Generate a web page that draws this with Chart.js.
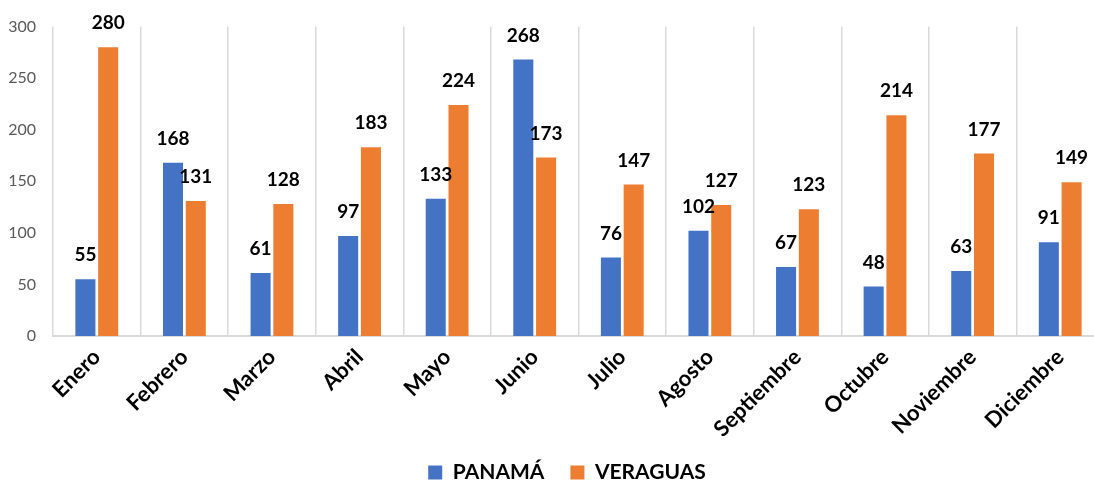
<!DOCTYPE html>
<html lang="es">
<head>
<meta charset="utf-8">
<title>Casos por mes</title>
<script src="https://cdn.jsdelivr.net/npm/chart.js@4.4.0/dist/chart.umd.min.js"></script>
<style>
    html, body {
        margin: 0;
        padding: 0;
        background: #ffffff;
        overflow: hidden;
    }
    #wrap {
        width: 1110px;
        height: 495px;
    }
</style>
</head>
<body>
<div id="wrap">
    <canvas id="barChart" width="1110" height="495"></canvas>
</div>
<script>
// Monthly values per province
const months = ['Enero', 'Febrero', 'Marzo', 'Abril', 'Mayo', 'Junio', 'Julio', 'Agosto', 'Septiembre', 'Octubre', 'Noviembre', 'Diciembre'];
const panama = [55, 168, 61, 97, 133, 268, 76, 102, 67, 48, 63, 91];
const veraguas = [280, 131, 128, 183, 224, 173, 147, 127, 123, 214, 177, 149];
const yTicks = [0, 50, 100, 150, 200, 250, 300];

const FONT = 'Lato, "Open Sans", sans-serif';

// Draws the value above each bar
const valueLabels = {
    id: 'valueLabels',
    afterDatasetsDraw(chart) {
        const ctx = chart.ctx;
        ctx.save();
        ctx.font = 'bold 19px ' + FONT;
        ctx.fillStyle = '#000000';
        ctx.textAlign = 'center';
        ctx.textBaseline = 'middle';
        chart.data.datasets.forEach((ds, i) => {
            chart.getDatasetMeta(i).data.forEach((bar, j) => {
                ctx.fillText(String(ds.data[j]), bar.x, bar.y - 24);
            });
        });
        ctx.restore();
    }
};

// Nudge the legend to the right, under the plot centre
const legendShift = {
    id: 'legendShift',
    afterLayout(chart) {
        if (chart.legend) {
            chart.legend.left += 15;
            chart.legend.right += 15;
        }
    }
};

const ctx = document.getElementById('barChart').getContext('2d');

new Chart(ctx, {
    type: 'bar',
    data: {
        labels: months,
        datasets: [{
            label: 'PANAMÁ',
            data: panama,
            backgroundColor: '#4472C4',
            categoryPercentage: 0.52,
            barPercentage: 0.88
        }, {
            label: 'VERAGUAS',
            data: veraguas,
            backgroundColor: '#ED7D31',
            categoryPercentage: 0.52,
            barPercentage: 0.88
        }]
    },
    options: {
        responsive: false,
        animation: false,
        layout: {
            padding: { top: 23, right: 6, left: 0, bottom: 2 }
        },
        plugins: {
            legend: {
                position: 'bottom',
                labels: {
                    color: '#000000',
                    font: { family: FONT, size: 21, weight: 'bold' },
                    boxWidth: 14,
                    boxHeight: 14,
                    padding: 26
                }
            },
            tooltip: { enabled: false }
        },
        scales: {
            x: {
                grid: {
                    display: true,
                    color: '#d9d9d9',
                    lineWidth: 1.5,
                    drawTicks: false
                },
                border: {
                    display: true,
                    color: '#d9d9d9',
                    width: 2
                },
                ticks: {
                    color: '#000000',
                    font: { family: FONT, size: 22, weight: 'bold' },
                    minRotation: 45,
                    maxRotation: 45,
                    padding: 8
                },
                afterFit(scale) {
                    scale.height = 100;
                }
            },
            y: {
                min: 0,
                max: 300,
                afterBuildTicks(scale) {
                    scale.ticks = yTicks.map(v => ({ value: v }));
                },
                grid: { display: false, drawTicks: false },
                border: { display: false },
                ticks: {
                    color: '#595959',
                    font: { family: FONT, size: 16 },
                    padding: 17
                },
                afterFit(scale) {
                    scale.width = 53;
                }
            }
        }
    },
    plugins: [valueLabels, legendShift]
});
</script>
</body>
</html>
